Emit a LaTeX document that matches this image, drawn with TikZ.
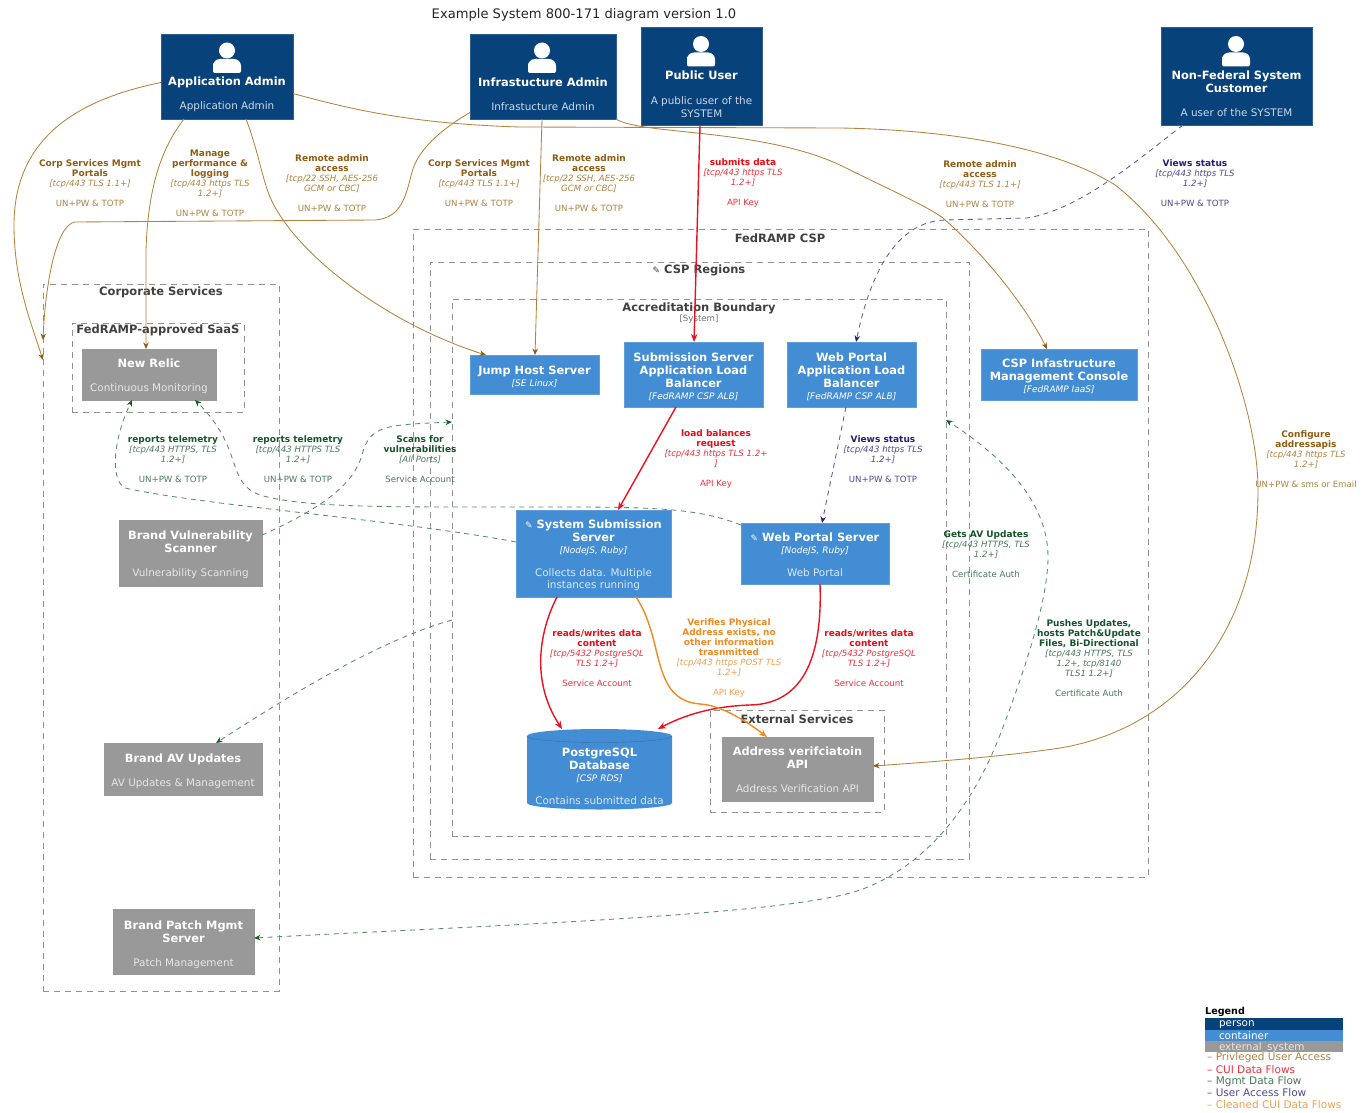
\documentclass[tikz,border=0pt]{standalone}
\usepackage{fontspec}
\usepackage{varwidth}
\setmainfont{DejaVu Sans}
\usetikzlibrary{arrows.meta}
\definecolor{cperson}{HTML}{08427B}
\definecolor{ccont}{HTML}{438DD5}
\definecolor{cext}{HTML}{999999}
\definecolor{cclu}{HTML}{919191}
\definecolor{dperson}{HTML}{C9D8E8}
\definecolor{dcont}{HTML}{D8E8F8}
\definecolor{dext}{HTML}{E6E6E6}
\definecolor{brT}{HTML}{8F5D12}\definecolor{brL}{HTML}{AD8440}\definecolor{brW}{HTML}{B5843C}
\definecolor{reT}{HTML}{EE0A14}\definecolor{reL}{HTML}{F0303C}\definecolor{reW}{HTML}{EE1020}
\definecolor{grT}{HTML}{14552A}\definecolor{grL}{HTML}{4A7A5A}\definecolor{grW}{HTML}{5A8A6C}\definecolor{grH}{HTML}{125E1E}
\definecolor{blT}{HTML}{2A1A78}\definecolor{blL}{HTML}{54488F}\definecolor{blW}{HTML}{5F5A98}
\definecolor{orT}{HTML}{F08A24}\definecolor{orL}{HTML}{F0A050}\definecolor{orW}{HTML}{F08A20}
\newcommand\bx[7]{%
  \pgfmathsetmacro\bxcx{(#3+#5)/2}\pgfmathsetmacro\bxcy{(#4+#6)/2}%
  \node[#2,minimum width={(#5-#3)*1pt},minimum height={(#6-#4)*1pt}] (#1) at (\bxcx,\bxcy) {#7};}
\newcommand\lab[7]{%
  \node[lbl,text=#4T] (#1) at (#2,#3) {{\fontsize{9}{10}\selectfont\bfseries #5}\\{\color{#4L}\itshape #6}\\[10pt]{\color{#4L}#7}};}
\newcommand\personicon[2]{%
  \fill[white] (#1,#2) circle (8);
  \fill[white] (#1-14,#2+22.5) [rounded corners=2pt] -- (#1-14,#2+15) [rounded corners=7pt] -- (#1-14,#2+8.5) -- (#1+14,#2+8.5) [rounded corners=2pt] -- (#1+14,#2+22.5) -- cycle;}
\newcommand\dt[1]{{\fontsize{10.4}{13}\selectfont #1}}
\newcommand\tc[1]{{\fontsize{9}{13}\selectfont\mdseries\itshape #1}}
\newcommand\gear{{\fontsize{9}{9}\selectfont\mdseries ✎}}
\newcommand\pd[1]{\rule{0pt}{#1pt}}
\tikzset{
  vw/.style={execute at begin node={\begin{varwidth}{220pt}\centering},execute at end node={\end{varwidth}}},
  clu/.style={draw=cclu,line width=1pt,dash pattern=on 6pt off 5pt,inner sep=0pt,outer sep=0pt},
  clut/.style={font=\fontsize{11.5}{13}\selectfont\bfseries,text=black!75,inner sep=0pt},
  nb/.style={vw,inner sep=0pt,outer sep=0pt,text=white,font=\fontsize{11.4}{13}\selectfont\bfseries},
  per/.style={nb,fill=cperson,draw=cperson!85!white},
  con/.style={nb,fill=ccont,draw=ccont!85!white},
  ext/.style={nb,fill=cext,draw=cext},
  lbl/.style={vw,inner sep=0pt,font=\fontsize{8.6}{10}\selectfont},
  brl/.style={draw=brW,line width=0.85pt,-{Stealth[length=6.5pt,width=5.5pt,color=brT]}},
  rel/.style={draw=reW,line width=1.4pt,-{Stealth[length=8pt,width=6.5pt]}},
  orl/.style={draw=orW,line width=1.4pt,-{Stealth[length=8pt,width=6.5pt]}},
  grl/.style={draw=grW,line width=0.85pt,dash pattern=on 5pt off 4.5pt,-{Stealth[length=6.5pt,width=5.5pt,color=grH]}},
  bll/.style={draw=blW,line width=0.85pt,dash pattern=on 5pt off 4.5pt,-{Stealth[length=6.5pt,width=5.5pt,color=blT]}},
  leg/.style={anchor=west,inner sep=0pt,font=\fontsize{10.5}{12}\selectfont},
  legb/.style={inner xsep=14pt,inner ysep=0pt,outer sep=0pt,text width=110pt,align=left,text depth=0pt,font=\fontsize{10.4}{11}\selectfont}
}
\begin{document}
\begin{tikzpicture}[x=1pt,y=-1pt]
\useasboundingbox (0,0) rectangle (1363,1113);
\fill[white] (0,0) rectangle (1363,1113);
\node[font=\fontsize{13.1}{15}\selectfont,text=black!85,inner sep=0pt] (title) at (584,15) {Example System 800-171 diagram version 1.0};
% clusters
\bx{fed}{clu}{413}{229}{1148}{877}{}
\bx{reg}{clu}{430}{262}{969}{859}{}
\bx{acc}{clu}{452}{299}{946}{836}{}
\bx{exts}{clu}{710}{710}{884}{812}{}
\bx{corp}{clu}{43}{284}{279}{991}{}
\bx{saas}{clu}{72}{323}{244}{412}{}
\node[clut] (fedt) at (780,238) {FedRAMP CSP};
\node[clut] (regt) at (699,270) {\gear{} CSP Regions};
\node[clut] (acct) at (699,308) {Accreditation Boundary};
\node[font=\fontsize{8.6}{10}\selectfont,text=black!55,inner sep=0pt] (accs) at (699,319.5) {[System]};
\node[clut] (extt) at (797,719) {External Services};
\node[clut] (corpt) at (161,292.5) {Corporate Services};
\node[clut] (saast) at (158,330.5) {FedRAMP-approved SaaS};
% persons
\bx{aa}{per}{161}{34}{293}{119}{~\\[31pt]Application Admin\\[11pt]{\color{dperson}\mdseries\dt{Application Admin}}}
\bx{ia}{per}{470}{34}{616}{119}{~\\[31pt]Infrastucture Admin\\[11pt]{\color{dperson}\mdseries\dt{Infrastucture Admin}}}
\bx{pu}{per}{641}{27}{762}{125}{~\\[33pt]Public User\\[12pt]{\color{dperson}\mdseries\dt{A public user of the\\SYSTEM}}}
\bx{nf}{per}{1161}{27}{1312}{125}{~\\[32pt]Non-Federal System\\Customer\\[11pt]{\color{dperson}\mdseries\dt{A user of the SYSTEM}}}
\personicon{227}{50.5}
\personicon{542}{50.5}
\personicon{701}{44}
\personicon{1236}{44}
% containers
\bx{con1}{con}{981}{349}{1137}{400}{\pd{12.7}CSP Infastructure\\Management Console\\[-1pt]\tc{[FedRAMP IaaS]}}
\bx{jh}{con}{470}{355}{599}{394}{\pd{12.7}Jump Host Server\\[-1pt]\tc{[SE Linux]}}
\bx{sa}{con}{624}{342}{763}{407}{\pd{12.7}Submission Server\\Application Load\\Balancer\\[-1pt]\tc{[FedRAMP CSP ALB]}}
\bx{wa}{con}{787}{342}{916}{407}{\pd{12.7}Web Portal\\Application Load\\Balancer\\[-1pt]\tc{[FedRAMP CSP ALB]}}
\bx{ss}{con}{516}{510}{671}{597}{\pd{12.7}\gear{} System Submission\\Server\\[-1pt]\tc{[NodeJS, Ruby]}\\[10pt]{\color{dcont}\mdseries\dt{Collects data. Multiple\\[-1pt]instances running}}}
\bx{ws}{con}{741}{523}{889}{584}{\pd{10.7}\gear{} Web Portal Server\\[-1pt]\tc{[NodeJS, Ruby]}\\[10pt]{\color{dcont}\mdseries\dt{Web Portal}}}
% database
\fill[ccont] (527,736) -- (527,803) arc[start angle=180,end angle=360,x radius=72.5,y radius=-6.5] -- (672,736) -- cycle;
\fill[ccont] (599.5,736) ellipse (72.5 and 7);
\draw[ccont!80!black,line width=0.4pt] (527,736) arc[start angle=180,end angle=360,x radius=72.5,y radius=-6.5];
\bx{pg}{nb}{527}{729}{672}{809}{~\\[11pt]PostgreSQL\\Database\\[-1pt]\tc{[CSP RDS]}\\[10pt]{\color{dcont}\mdseries\dt{Contains submitted data}}}
% external
\bx{addr}{ext}{722}{737}{873}{801}{\pd{10.7}Address verifciatoin\\API\\[11pt]{\color{dext}\mdseries\dt{Address Verification API}}}
\bx{nr}{ext}{82}{349}{216}{400}{\pd{12.7}New Relic\\[11pt]{\color{dext}\mdseries\dt{Continuous Monitoring}}}
\bx{bv}{ext}{119}{520}{262}{586}{\pd{12.7}Brand Vulnerability\\Scanner\\[11pt]{\color{dext}\mdseries\dt{Vulnerability Scanning}}}
\bx{av}{ext}{104}{743}{262}{795}{\pd{12.7}Brand AV Updates\\[11pt]{\color{dext}\mdseries\dt{AV Updates \& Management}}}
\bx{pm}{ext}{113}{909}{254}{974}{\pd{14.7}Brand Patch Mgmt\\Server\\[11pt]{\color{dext}\mdseries\dt{Patch Management}}}
% privileged connectors
\draw[brl] ([yshift=-6pt]aa.west) .. controls (90,97) and (14,130) .. (14,225) .. controls (14,280) and (30,320) .. ([yshift=-76pt]corp.north west);
\draw[brl] ([xshift=-43pt]aa.south) .. controls (160,150) and (148,190) .. (146,250) -- ([xshift=-3pt]nr.north);
\draw[brl] ([xshift=19pt]aa.south) .. controls (258,150) and (262,178) .. (270,197) .. controls (295,255) and (390,325) .. ([xshift=-48.5pt]jh.north);
\draw[brl] ([yshift=-17pt]aa.east) .. controls (360,112) and (420,124) .. (520,127) -- (840,128) .. controls (960,130) and (1060,150) .. (1115,185) .. controls (1200,250) and (1258,400) .. (1258,490) .. controls (1258,640) and (1170,730) .. (1060,748) .. controls (1000,757) and (930,762) .. ([yshift=3pt]addr.east);
\draw[brl] ([yshift=-36pt]ia.west) .. controls (440,130) and (418,150) .. (412,172) .. controls (406,195) and (402,218) .. (375,220) -- (75,222) .. controls (55,225) and (45,290) .. ([yshift=-56pt]corp.north west);
\draw[brl] ([xshift=-1pt]ia.south) -- ([xshift=0.5pt]jh.north);
\draw[brl] (ia.south east) .. controls (640,135) and (760,128) .. (840,165) .. controls (890,190) and (925,205) .. (943,218) .. controls (985,255) and (1025,305) .. ([xshift=-12pt]con1.north);
% red connectors
\draw[rel] ([xshift=-1.5pt]pu.south) -- ([xshift=0.5pt]sa.north);
\draw[rel] ([xshift=-17.5pt]sa.south) -- ([xshift=24.5pt]ss.north);
\draw[rel] ([xshift=-36.5pt]ss.south) .. controls (540,630) and (530,680) .. ([xshift=-37.5pt]pg.north);
\draw[rel] ([xshift=5pt]ws.south) .. controls (822,640) and (812,704) .. (750,705) .. controls (720,706) and (690,712) .. ([xshift=58.5pt]pg.north);
% orange connector
\draw[orl] ([xshift=42.5pt]ss.south) .. controls (665,640) and (650,700) .. (700,704) .. controls (720,705) and (745,720) .. ([xshift=-30.5pt]addr.north);
% management connectors
\draw[grl] ([yshift=11.5pt]ss.west) .. controls (400,520) and (200,505) .. (125,488) .. controls (110,480) and (113,440) .. ([xshift=-17pt]nr.south);
\draw[grl] ([yshift=-2pt]ws.north west) .. controls (690,505) and (640,507) .. (480,507) .. controls (380,507) and (300,507) .. (260,495) .. controls (225,482) and (245,450) .. ([xshift=46pt]nr.south);
\draw[grl] ([yshift=18pt]bv.east) .. controls (330,505) and (355,480) .. (362,455) .. controls (370,425) and (385,425) .. ([yshift=-123pt]acc.north west);
\draw[grl] ([yshift=-321pt]acc.north west) .. controls (380,640) and (290,695) .. ([xshift=33pt]av.north);
\draw[grl,{Stealth[length=6.5pt,width=5.5pt,color=grH]}-{Stealth[length=6.5pt,width=5.5pt,color=grH]}] ([yshift=3.5pt]pm.east) .. controls (500,925) and (790,915) .. (860,890) .. controls (930,865) and (975,800) .. (1000,735) .. controls (1025,670) and (1048,600) .. (1048,557) .. controls (1048,500) and (1000,455) .. ([yshift=-121pt]acc.north east);
% user connectors
\draw[bll] ([xshift=-53.5pt]nf.south) .. controls (1140,158) and (1080,210) .. (1027,218) -- (945,220) .. controls (885,222) and (865,300) .. ([xshift=4.5pt]wa.north);
\draw[bll] ([xshift=-5.5pt]wa.south) -- ([xshift=7pt]ws.north);
% labels
\lab{l1}{90}{183}{br}{Corp Services Mgmt\\Portals}{[tcp/443 TLS 1.1+]}{UN+PW \& TOTP}
\lab{l2}{210}{183}{br}{Manage\\performance \&\\logging}{[tcp/443 https TLS\\1.2+]}{UN+PW \& TOTP}
\lab{l3}{332}{183}{br}{Remote admin\\access}{[tcp/22 SSH, AES-256\\GCM or CBC]}{UN+PW \& TOTP}
\lab{l4}{479}{183}{br}{Corp Services Mgmt\\Portals}{[tcp/443 TLS 1.1+]}{UN+PW \& TOTP}
\lab{l5}{589}{183}{br}{Remote admin\\access}{[tcp/22 SSH, AES-256\\GCM or CBC]}{UN+PW \& TOTP}
\lab{l6}{743}{183}{re}{submits data}{[tcp/443 https TLS\\1.2+]}{API Key}
\lab{l7}{980}{184}{br}{Remote admin\\access}{[tcp/443 TLS 1.1+]}{UN+PW \& TOTP}
\lab{l8}{1195}{183}{bl}{Views status}{[tcp/443 https TLS\\1.2+]}{UN+PW \& TOTP}
\lab{l9}{716}{459}{re}{load balances\\request}{[tcp/443 https TLS 1.2+\\]}{API Key}
\lab{l10}{883}{459}{bl}{Views status}{[tcp/443 https TLS\\1.2+]}{UN+PW \& TOTP}
\lab{l11}{173}{459}{gr}{reports telemetry}{[tcp/443 HTTPS, TLS\\1.2+]}{UN+PW \& TOTP}
\lab{l12}{298}{459}{gr}{reports telemetry}{[tcp/443 HTTPS TLS\\1.2+]}{UN+PW \& TOTP}
\lab{l13}{420}{459}{gr}{Scans for\\vulnerabilities}{[All Ports]}{Service Account}
\lab{l14}{1306}{459}{br}{Configure\\addressapis}{[tcp/443 https TLS\\1.2+]}{UN+PW \& sms or Email}
\lab{l15}{986}{554}{gr}{Gets AV Updates}{[tcp/443 HTTPS, TLS\\1.2+]}{Certificate Auth}
\lab{l16}{1089}{658}{gr}{Pushes Updates,\\hosts Patch\&Update\\Files, Bi-Directional}{[tcp/443 HTTPS, TLS\\1.2+, tcp/8140\\TLS1 1.2+]}{Certificate Auth}
\lab{l17}{597}{658}{re}{reads/writes data\\content}{[tcp/5432 PostgreSQL\\TLS 1.2+]}{Service Account}
\lab{l18}{729}{658}{or}{Verifies Physical\\Address exists, no\\other information\\trasnmitted}{[tcp/443 https POST TLS\\1.2+]}{API Key}
\lab{l19}{869}{658}{re}{reads/writes data\\content}{[tcp/5432 PostgreSQL\\TLS 1.2+]}{Service Account}
% legend
\node[anchor=west,inner sep=0pt,font=\fontsize{9.6}{11}\selectfont\bfseries] (lt) at (1205,1011.5) {Legend};
\bx{lg1}{legb,fill=cperson,text=white}{1205}{1017.5}{1343}{1029.5}{person}
\bx{lg2}{legb,fill=ccont,text=white}{1205}{1029.5}{1343}{1041}{container}
\bx{lg3}{legb,fill=cext,text=dext}{1205}{1041}{1343}{1052}{external\_system}
\node[leg,text=brL] (lg4) at (1207,1058) {– Privleged User Access};
\node[leg,text=reL] (lg5) at (1207,1069.5) {– CUI Data Flows};
\node[leg,text=grL] (lg6) at (1207,1081.5) {– Mgmt Data Flow};
\node[leg,text=blL] (lg7) at (1207,1093) {– User Access Flow};
\node[leg,text=orL] (lg8) at (1207,1105) {– Cleaned CUI Data Flows};
\end{tikzpicture}
\end{document}
